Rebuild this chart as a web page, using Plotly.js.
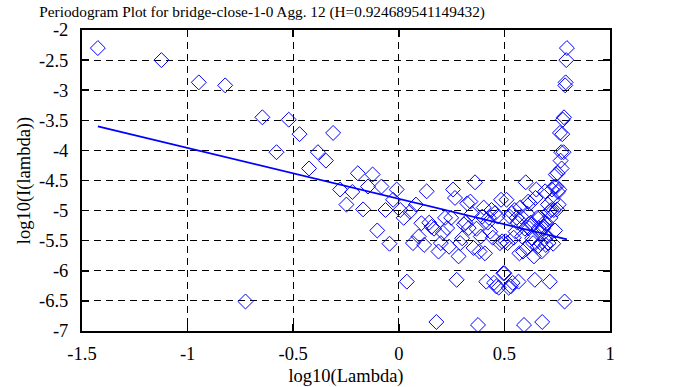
<!DOCTYPE html>
<html>
<head>
<meta charset="utf-8">
<script src="https://cdn.plot.ly/plotly-3.0.1.min.js"></script>
<style>html,body{margin:0;padding:0;background:#fff;}#chart{width:688px;height:387px;}</style>
</head>
<body>
<div id="chart"></div>
<script>
// log10(lambda) of each periodogram ordinate
var logLambda = [
-1.425,-1.124,-0.947,-0.822,-0.726,-0.646,-0.579,-0.521,-0.470,-0.425,
-0.383,-0.345,-0.311,-0.278,-0.248,-0.220,-0.194,-0.169,-0.146,-0.124,
-0.102,-0.082,-0.063,-0.044,-0.027,-0.010,0.007,0.023,0.038,0.053,
0.067,0.081,0.094,0.107,0.120,0.132,0.144,0.155,0.167,0.178,
0.188,0.199,0.209,0.219,0.229,0.238,0.248,0.257,0.266,0.274,
0.283,0.291,0.300,0.308,0.316,0.324,0.331,0.339,0.346,0.354,
0.361,0.368,0.375,0.382,0.388,0.395,0.402,0.408,0.414,0.421,
0.427,0.433,0.439,0.445,0.451,0.456,0.462,0.468,0.473,0.479,
0.484,0.489,0.495,0.500,0.505,0.510,0.515,0.520,0.525,0.530,
0.535,0.539,0.544,0.549,0.553,0.558,0.562,0.567,0.571,0.575,
0.580,0.584,0.588,0.593,0.597,0.601,0.605,0.609,0.613,0.617,
0.621,0.625,0.629,0.632,0.636,0.640,0.644,0.647,0.651,0.655,
0.658,0.662,0.665,0.669,0.672,0.676,0.679,0.683,0.686,0.689,
0.693,0.696,0.699,0.703,0.706,0.709,0.712,0.715,0.718,0.722,
0.725,0.728,0.731,0.734,0.737,0.740,0.743,0.746,0.749,0.752,
0.754,0.757,0.760,0.763,0.766,0.769,0.771,0.774,0.777,0.780,
0.782,0.785,0.788,0.790,0.793,0.796];
// log10(I(lambda))
var logI = [
-2.30,-2.50,-2.87,-2.92,-6.51,-3.45,-4.03,-3.49,-3.73,-4.30,
-4.03,-4.17,-3.71,-4.65,-4.90,-4.69,-4.38,-4.98,-4.60,-4.40,
-5.33,-4.60,-4.99,-5.55,-4.82,-4.65,-4.99,-5.12,-6.18,-5.02,
-5.54,-4.90,-5.43,-5.21,-5.57,-4.68,-5.20,-5.27,-5.30,-6.85,
-5.68,-5.54,-5.37,-5.12,-5.29,-5.60,-5.12,-4.65,-4.79,-6.15,
-5.76,-5.54,-5.46,-5.23,-5.20,-4.88,-5.29,-4.85,-5.05,-5.62,
-4.53,-5.30,-6.90,-5.68,-5.43,-5.10,-4.95,-5.71,-6.18,-5.20,
-5.12,-5.35,-4.99,-5.45,-6.20,-5.04,-6.26,-5.10,-6.28,-5.54,
-4.82,-5.51,-6.04,-6.04,-5.51,-4.82,-5.54,-6.28,-5.10,-6.26,
-5.04,-6.20,-5.45,-4.99,-5.35,-5.12,-5.20,-6.18,-5.71,-4.95,
-5.10,-5.43,-5.68,-6.90,-5.30,-4.53,-5.62,-5.05,-4.85,-5.29,
-4.88,-5.20,-5.23,-5.46,-5.54,-5.76,-6.15,-4.79,-4.65,-5.12,
-5.60,-5.29,-5.12,-5.37,-5.54,-5.68,-6.85,-5.30,-5.27,-5.20,
-4.68,-5.57,-5.21,-5.43,-4.90,-5.54,-5.02,-6.18,-5.12,-4.99,
-4.65,-4.82,-5.55,-4.99,-4.60,-5.33,-4.40,-4.60,-4.98,-4.38,
-4.69,-4.90,-4.65,-3.71,-4.17,-4.03,-4.30,-3.73,-3.49,-4.03,
-3.45,-6.51,-2.92,-2.87,-2.50,-2.30];
// least-squares fit line end points
var fitX = [-1.425, 0.796];
var fitY = [-3.60, -5.476];
var xTicks = [-1.5, -1, -0.5, 0, 0.5, 1];
var xTickText = ['-1.5', '-1', '-0.5', '0', '0.5', '1'];
var yTicks = [-7, -6.5, -6, -5.5, -5, -4.5, -4, -3.5, -3, -2.5, -2];
var yTickText = ['-7', '-6.5', '-6', '-5.5', '-5', '-4.5', '-4', '-3.5', '-3', '-2.5', '-2'];

var FONT = 'Liberation Serif, Times New Roman, serif';
var traces = [
  {x: logLambda, y: logI, type: 'scatter', mode: 'markers',
   marker: {symbol: 'diamond-open', size: 11.5, color: '#0000ff', line: {width: 1, color: '#0000ff'}},
   cliponaxis: true},
  {x: fitX, y: fitY, type: 'scatter', mode: 'lines', line: {color: '#0000ff', width: 1.8}}
];
var axisCommon = {
  showline: true, linecolor: '#000', linewidth: 2, mirror: 'ticks',
  ticks: 'inside', ticklen: 7, tickwidth: 1.5, tickcolor: '#000',
  showgrid: true, gridcolor: '#000', gridwidth: 1, griddash: '7px,5px',
  zeroline: false, tickfont: {family: FONT, size: 18.5, color: '#000'}
};
var layout = {
  width: 688, height: 387,
  margin: {l: 82, r: 78, t: 30, b: 56},
  paper_bgcolor: '#fff', plot_bgcolor: '#fff',
  showlegend: false, hovermode: false,
  title: {text: 'Periodogram Plot for bridge-close-1-0 Agg. 12 (H=0.924689541149432)',
          font: {family: FONT, size: 15.3, color: '#000'}, x: 0.381, xanchor: 'center', y: 0.985, yanchor: 'top'},
  xaxis: Object.assign({}, axisCommon, {range: [-1.5, 1], tickvals: xTicks, ticktext: xTickText,
    ticklabelstandoff: 5,
    title: {text: 'log10(Lambda)', font: {family: FONT, size: 18.5, color: '#000'}, standoff: 6}}),
  yaxis: Object.assign({}, axisCommon, {range: [-7, -2], tickvals: yTicks, ticktext: yTickText,
    ticklabelstandoff: 8,
    title: {text: 'log10(I(lambda))', font: {family: FONT, size: 18.5, color: '#000'}, standoff: 4}})
};
Plotly.newPlot('chart', traces, layout, {staticPlot: true, displayModeBar: false});
</script>
</body>
</html>
